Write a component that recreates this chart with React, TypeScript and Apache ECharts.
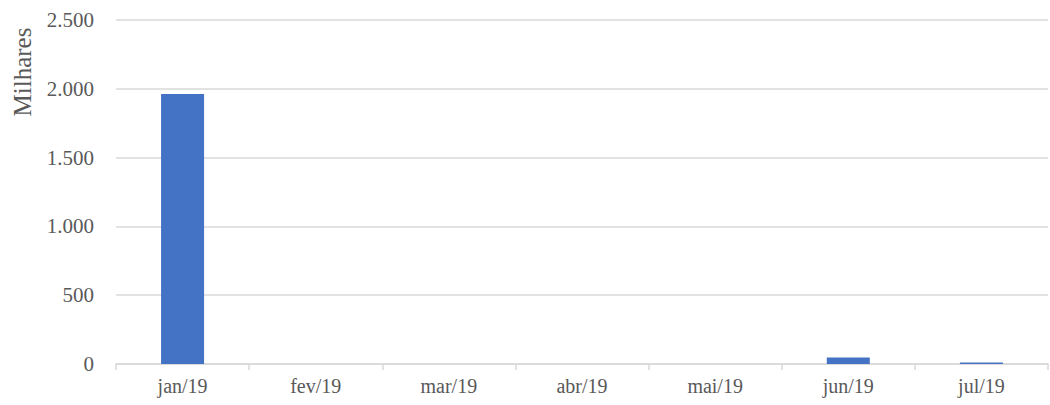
import React, { useEffect, useRef } from "react";
import * as echarts from "echarts";

const categories = ["jan/19", "fev/19", "mar/19", "abr/19", "mai/19", "jun/19", "jul/19"];
const values = [1962, 0, 0, 0, 0, 47, 11];
const yTicks = { min: 0, max: 2500, interval: 500 };
const axisName = "Milhares";

const fmt = (v: number) => String(v).replace(/\B(?=(\d{3})+(?!\d))/g, ".");

export default function App() {
  const ref = useRef<HTMLDivElement>(null);
  useEffect(() => {
    if (!ref.current) return;
    const chart = echarts.init(ref.current, undefined, { renderer: "svg" });
    const font = "Liberation Serif";
    chart.setOption({
      animation: false,
      grid: { left: 116, right: 2, top: 20, bottom: 41 },
      xAxis: {
        type: "category",
        data: categories,
        axisLine: { lineStyle: { color: "#d9d9d9", width: 1.5 } },
        axisTick: { show: true, length: 6, lineStyle: { color: "#d9d9d9", width: 1.5 } },
        axisLabel: { color: "#595959", fontSize: 20, fontFamily: font, margin: 12 },
      },
      yAxis: {
        type: "value",
        min: yTicks.min,
        max: yTicks.max,
        interval: yTicks.interval,
        axisLine: { show: false },
        axisTick: { show: false },
        splitLine: { lineStyle: { color: "#d9d9d9", width: 1.5 } },
        axisLabel: { color: "#595959", fontSize: 21, fontFamily: font, margin: 22, formatter: (v: number) => fmt(v) },
      },
      graphic: [
        {
          type: "text",
          x: 22,
          y: 72,
          rotation: Math.PI / 2,
          style: {
            text: axisName,
            fill: "#595959",
            fontSize: 25,
            fontFamily: font,
            align: "center",
            verticalAlign: "middle",
          },
        },
      ],
      series: [
        {
          type: "bar",
          data: values,
          barWidth: 43,
          itemStyle: { color: "#4472c4" },
        },
      ],
    });
    return () => chart.dispose();
  }, []);
  return <div ref={ref} style={{ position: "absolute", left: 0, top: 0, width: 1050, height: 405 }} />;
}
